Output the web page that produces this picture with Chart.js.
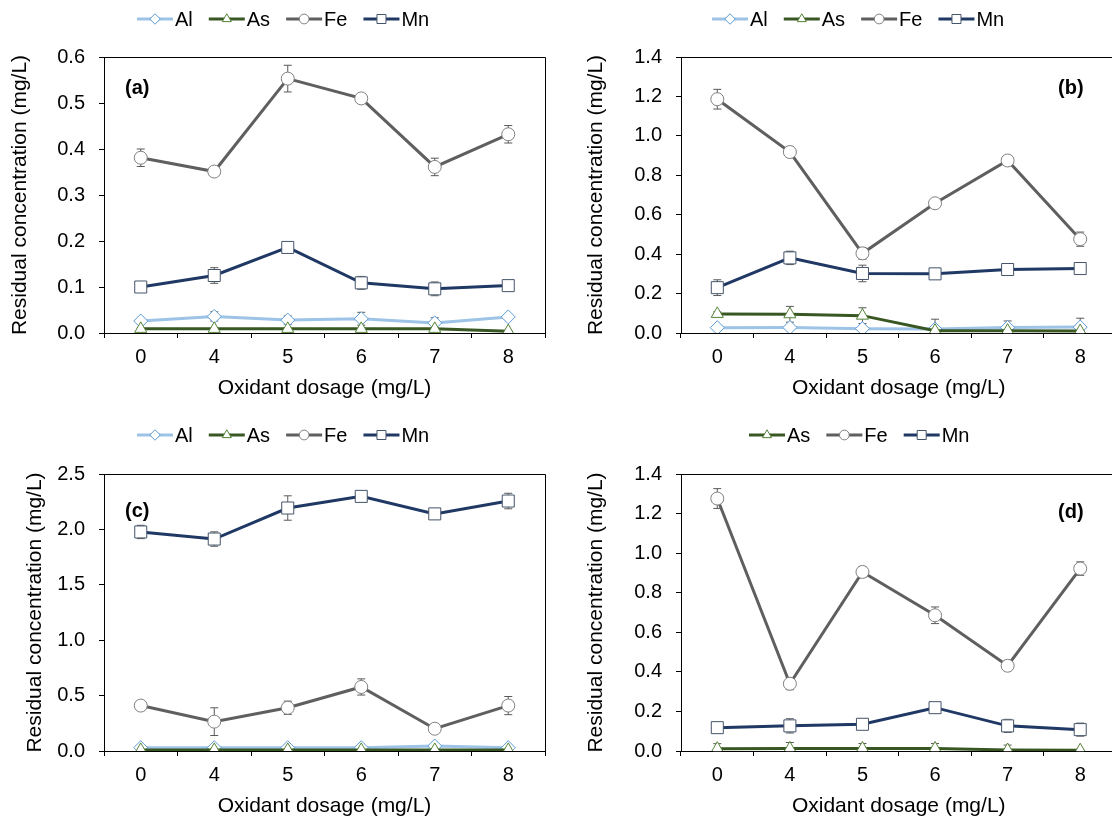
<!DOCTYPE html>
<html>
<head>
<meta charset="utf-8">
<script src="https://cdn.jsdelivr.net/npm/chart.js@4.4.0/dist/chart.umd.min.js"></script>
<style>
html, body { margin: 0; padding: 0; background: #fff; width: 1112px; height: 819px; overflow: hidden; }
canvas { position: absolute; }
</style>
</head>
<body>
<canvas id="chartA" width="556" height="410" style="left:0;top:0"></canvas>
<canvas id="chartB" width="570" height="410" style="left:556px;top:0"></canvas>
<canvas id="chartC" width="556" height="410" style="left:0;top:410px"></canvas>
<canvas id="chartD" width="570" height="410" style="left:556px;top:410px"></canvas>
<script>
// Oxidant dosages (categories on x)
const dosages = ['0', '4', '5', '6', '7', '8'];

// (a)
const alA = [0.026, 0.036, 0.028, 0.031, 0.022, 0.035];
const alAErr = [0.004, 0.010, 0.009, 0.014, 0.011, 0.003];
const asA = [0.009, 0.009, 0.009, 0.009, 0.009, 0.004];
const asAErr = [0.002, 0.002, 0.002, 0.002, 0.002, 0.001];
const feA = [0.381, 0.351, 0.553, 0.510, 0.361, 0.432];
const feAErr = [0.019, 0.006, 0.029, 0.008, 0.019, 0.019];
const mnA = [0.100, 0.125, 0.186, 0.109, 0.096, 0.103];
const mnAErr = [0.006, 0.017, 0.009, 0.014, 0.015, 0.009];

// (b)
const alB = [0.027, 0.028, 0.022, 0.020, 0.028, 0.030];
const alBErr = [0.005, 0.005, 0.005, 0.050, 0.033, 0.045];
const asB = [0.097, 0.095, 0.088, 0.012, 0.012, 0.010];
const asBErr = [0.010, 0.040, 0.040, 0.005, 0.005, 0.005];
const feB = [1.186, 0.918, 0.404, 0.658, 0.875, 0.476];
const feBErr = [0.050, 0.028, 0.030, 0.010, 0.010, 0.036];
const mnB = [0.230, 0.381, 0.302, 0.300, 0.322, 0.327];
const mnBErr = [0.040, 0.034, 0.042, 0.010, 0.020, 0.008];

// (c)
const alC = [0.030, 0.030, 0.030, 0.030, 0.045, 0.030];
const alCErr = [0.010, 0.010, 0.010, 0.010, 0.010, 0.010];
const asC = [0.010, 0.010, 0.010, 0.010, 0.010, 0.010];
const asCErr = [0.005, 0.005, 0.005, 0.005, 0.005, 0.005];
const feC = [0.410, 0.265, 0.390, 0.578, 0.201, 0.410];
const feCErr = [0.010, 0.125, 0.060, 0.073, 0.010, 0.082];
const mnC = [1.977, 1.913, 2.193, 2.298, 2.140, 2.256];
const mnCErr = [0.060, 0.065, 0.110, 0.020, 0.040, 0.070];

// (d)
const asD = [0.012, 0.013, 0.013, 0.013, 0.005, 0.004];
const asDErr = [0.025, 0.030, 0.025, 0.025, 0.025, 0.005];
const feD = [1.276, 0.340, 0.905, 0.686, 0.431, 0.922];
const feDErr = [0.050, 0.030, 0.027, 0.042, 0.025, 0.034];
const mnD = [0.118, 0.127, 0.135, 0.219, 0.127, 0.108];
const mnDErr = [0.008, 0.036, 0.025, 0.010, 0.033, 0.033];

// y axis ranges
const yMaxA = 0.6, yStepA = 0.1;
const yMaxB = 1.4, yStepB = 0.2;
const yMaxC = 2.5, yStepC = 0.5;
const yMaxD = 1.4, yStepD = 0.2;

const FONT = '"Liberation Sans", Arial, sans-serif';

// look of each element
const seriesStyle = {
    Al: { line: '#9DC3E6', point: '#5B9BD5', pointStyle: 'rectRot', radius: 7, order: 4 },
    As: { line: '#385723', point: '#548235', pointStyle: 'triangle', radius: 7, order: 3 },
    Fe: { line: '#5F5F5F', point: '#7F7F7F', pointStyle: 'circle', radius: 6.5, order: 2 },
    Mn: { line: '#1F3864', point: '#44546A', pointStyle: 'rect', radius: 8.5, order: 1 }
};

function makeDataset(name, values, errors) {
    const s = seriesStyle[name];
    return {
        label: name,
        data: values,
        errorBars: errors,
        borderColor: s.line,
        borderWidth: 3,
        pointStyle: s.pointStyle,
        pointRadius: s.radius,
        pointBackgroundColor: '#fff',
        pointBorderColor: s.point,
        pointBorderWidth: 1,
        tension: 0,
        order: s.order
    };
}

// error bars, drawn under the lines so the markers hide the middle
const errorBarPlugin = {
    id: 'errorBars',
    beforeDatasetsDraw(chart) {
        const ctx = chart.ctx;
        const yScale = chart.scales.y;
        ctx.save();
        ctx.strokeStyle = '#595959';
        ctx.lineWidth = 1;
        chart.data.datasets.forEach((ds, i) => {
            const meta = chart.getDatasetMeta(i);
            meta.data.forEach((pt, j) => {
                const v = ds.data[j], e = ds.errorBars[j];
                const top = yScale.getPixelForValue(v + e);
                const bot = yScale.getPixelForValue(Math.max(v - e, 0));
                ctx.beginPath();
                ctx.moveTo(pt.x, top); ctx.lineTo(pt.x, bot);
                ctx.moveTo(pt.x - 4, top); ctx.lineTo(pt.x + 4, top);
                ctx.moveTo(pt.x - 4, bot); ctx.lineTo(pt.x + 4, bot);
                ctx.stroke();
            });
        });
        ctx.restore();
    }
};

// top and right lines of the plot box
const framePlugin = {
    id: 'frame',
    afterDraw(chart) {
        const { ctx, chartArea } = chart;
        ctx.save();
        ctx.strokeStyle = '#000';
        ctx.lineWidth = 1;
        ctx.beginPath();
        ctx.moveTo(chartArea.left, chartArea.top + 0.5);
        ctx.lineTo(chartArea.right + 0.5, chartArea.top + 0.5);
        ctx.lineTo(chartArea.right + 0.5, chartArea.bottom);
        ctx.stroke();
        ctx.restore();
    }
};

// legend with line + marker, and the panel tag
const panelLegendPlugin = {
    id: 'panelLegend',
    afterDraw(chart, args, opts) {
        const ctx = chart.ctx;
        ctx.save();
        ctx.font = '20px ' + FONT;
        ctx.textBaseline = 'middle';
        let x = opts.x;
        const y = opts.y;
        chart.data.datasets.forEach(ds => {
            ctx.strokeStyle = ds.borderColor;
            ctx.lineWidth = 3;
            ctx.beginPath();
            ctx.moveTo(x, y); ctx.lineTo(x + 36, y);
            ctx.stroke();
            ctx.fillStyle = '#fff';
            ctx.strokeStyle = ds.pointBorderColor;
            ctx.lineWidth = 1;
            Chart.helpers.drawPoint(ctx, {
                pointStyle: ds.pointStyle,
                radius: ds.pointRadius * 0.75,
                borderWidth: 1,
                rotation: 0
            }, x + 18, y);
            ctx.fillStyle = '#000';
            ctx.textAlign = 'left';
            ctx.fillText(ds.label, x + 38, y + 1);
            x += 38 + ctx.measureText(ds.label).width + 16;
        });
        ctx.font = 'bold 20px ' + FONT;
        ctx.fillText(opts.tag, opts.tagX, opts.tagY);
        ctx.restore();
    }
};

function makePanel(id, datasets, yMax, yStep, lay) {
    return new Chart(document.getElementById(id), {
        type: 'line',
        data: { labels: dosages, datasets: datasets },
        options: {
            responsive: false,
            animation: false,
            devicePixelRatio: 1,
            layout: { padding: { top: lay.top, right: lay.right, left: 0, bottom: 0 } },
            scales: {
                x: {
                    offset: true,
                    grid: { offset: true, drawOnChartArea: false, color: '#000', tickLength: 5 },
                    border: { color: '#000', width: 1 },
                    ticks: { color: '#000', font: { family: FONT, size: 20 }, padding: 7, maxRotation: 0, autoSkip: false },
                    title: { display: true, text: 'Oxidant dosage (mg/L)', color: '#000', font: { family: FONT, size: 21 }, padding: { top: 0, bottom: lay.xTitlePad } },
                    afterFit(scale) { scale.height = lay.xHeight; }
                },
                y: {
                    min: 0,
                    max: yMax,
                    grid: { drawOnChartArea: false, color: '#000', tickLength: 5 },
                    border: { color: '#000', width: 1 },
                    ticks: {
                        stepSize: yStep,
                        color: '#000',
                        padding: 14,
                        font: { family: FONT, size: 20 },
                        callback: v => v.toFixed(1)
                    },
                    title: { display: true, text: 'Residual concentration (mg/L)', color: '#000', font: { family: FONT, size: 21 }, padding: { top: lay.yTitlePad, bottom: 0 } },
                    afterFit(scale) { scale.width = lay.yWidth; }
                }
            },
            plugins: {
                legend: { display: false },
                tooltip: { enabled: false },
                panelLegend: { x: lay.legendX, y: lay.legendY, tag: lay.tag, tagX: lay.tagX, tagY: lay.tagY }
            }
        },
        plugins: [errorBarPlugin, framePlugin, panelLegendPlugin]
    });
}

makePanel('chartA', [
    makeDataset('Al', alA, alAErr),
    makeDataset('As', asA, asAErr),
    makeDataset('Fe', feA, feAErr),
    makeDataset('Mn', mnA, mnAErr)
], yMaxA, yStepA, {
    top: 57, right: 11, yWidth: 104, xHeight: 77, yTitlePad: 8, xTitlePad: 9,
    legendX: 137, legendY: 19, tag: '(a)', tagX: 125, tagY: 88
});

makePanel('chartB', [
    makeDataset('Al', alB, alBErr),
    makeDataset('As', asB, asBErr),
    makeDataset('Fe', feB, feBErr),
    makeDataset('Mn', mnB, mnBErr)
], yMaxB, yStepB, {
    top: 57, right: 6, yWidth: 125, xHeight: 77, yTitlePad: 28, xTitlePad: 9,
    legendX: 156, legendY: 19, tag: '(b)', tagX: 502, tagY: 88
});

makePanel('chartC', [
    makeDataset('Al', alC, alCErr),
    makeDataset('As', asC, asCErr),
    makeDataset('Fe', feC, feCErr),
    makeDataset('Mn', mnC, mnCErr)
], yMaxC, yStepC, {
    top: 64, right: 11, yWidth: 104, xHeight: 69, yTitlePad: 23, xTitlePad: 1,
    legendX: 137, legendY: 25, tag: '(c)', tagX: 125, tagY: 101
});

makePanel('chartD', [
    makeDataset('As', asD, asDErr),
    makeDataset('Fe', feD, feDErr),
    makeDataset('Mn', mnD, mnDErr)
], yMaxD, yStepD, {
    top: 64, right: 6, yWidth: 125, xHeight: 69, yTitlePad: 28, xTitlePad: 1,
    legendX: 193, legendY: 25, tag: '(d)', tagX: 502, tagY: 102
});
</script>
</body>
</html>
